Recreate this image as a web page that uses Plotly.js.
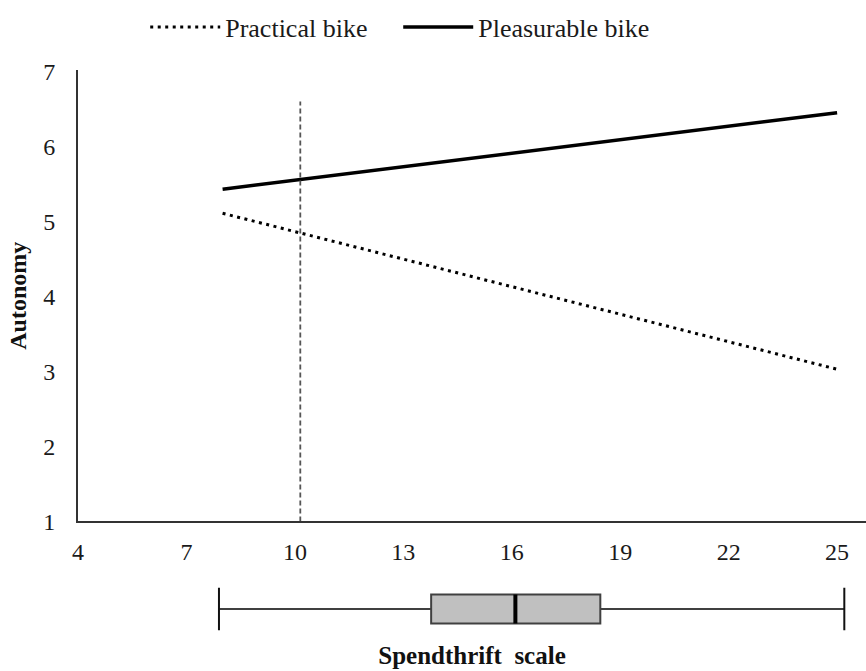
<!DOCTYPE html>
<html>
<head>
<meta charset="utf-8">
<script src="https://cdn.plot.ly/plotly-3.0.1.min.js"></script>
<style>
html,body{margin:0;padding:0;background:#fff;}
#chart{width:866px;height:671px;}
</style>
</head>
<body>
<div id="chart"></div>
<script>
// Spendthrift scale endpoints of the simple slopes
const spendX = [8, 25];
const practicalY = [5.11, 3.03];
const pleasurableY = [5.43, 6.45];
// Cut-off (vertical dashed) line
const cutoffX = [10.15, 10.15];
const cutoffY = [1, 6.6];
// Distribution of the spendthrift scale (box plot)
const boxMin = 7.9;
const boxQ1 = 13.77;
const boxMedian = 16.1;
const boxQ3 = 18.45;
const boxMax = 25.2;
const xTicks = [4, 7, 10, 13, 16, 19, 22, 25];
const yTicks = [1, 2, 3, 4, 5, 6, 7];
const seriesNames = ["Practical bike", "Pleasurable bike"];

const FONT = "Liberation Serif, Times New Roman, serif";
const boxHalf = 0.68;
const capHalf = 1.0;

const traces = [
  {x: spendX, y: practicalY, name: seriesNames[0], type: 'scatter', mode: 'lines',
   line: {color: '#000', width: 3, dash: '3px,4.5px'}, hoverinfo: 'skip'},
  {x: spendX, y: pleasurableY, name: seriesNames[1], type: 'scatter', mode: 'lines',
   line: {color: '#000', width: 3.5}, hoverinfo: 'skip'},
  {x: cutoffX, y: cutoffY, type: 'scatter', mode: 'lines', showlegend: false,
   line: {color: '#555', width: 1.8, dash: '5px,3px'}, hoverinfo: 'skip'},
  {type: 'box', orientation: 'h', y: [0], q1: [boxQ1], median: [boxMedian], q3: [boxQ3],
   lowerfence: [boxMin], upperfence: [boxMax], xaxis: 'x', yaxis: 'y2',
   width: 2 * boxHalf, whiskerwidth: 0, fillcolor: '#c0c0c0',
   line: {color: '#404040', width: 2}, boxpoints: false, showlegend: false, hoverinfo: 'skip'},
  {x: [boxMin, boxMin, null, boxMax, boxMax], y: [-capHalf, capHalf, null, -capHalf, capHalf],
   xaxis: 'x', yaxis: 'y2', type: 'scatter', mode: 'lines', showlegend: false,
   line: {color: '#111', width: 2}, hoverinfo: 'skip'},
  {x: [boxMedian, boxMedian], y: [-boxHalf, boxHalf], xaxis: 'x', yaxis: 'y2',
   type: 'scatter', mode: 'lines', showlegend: false,
   line: {color: '#000', width: 4}, hoverinfo: 'skip'}
];

const layout = {
  width: 866, height: 671,
  margin: {l: 78, r: 0, t: 70, b: 20},
  paper_bgcolor: '#fff', plot_bgcolor: 'rgba(0,0,0,0)',
  font: {family: FONT, size: 24, color: '#1a1a1a'},
  showlegend: true,
  legend: {orientation: 'h', x: 0.0853, xanchor: 'left', y: 1.074, yanchor: 'middle',
           font: {family: FONT, size: 26, color: '#1a1a1a'}, itemwidth: 70,
           entrywidth: 168, entrywidthmode: 'pixels', traceorder: 'normal'},
  xaxis: {range: [4, 25.8], anchor: 'y', tickvals: xTicks, ticktext: xTicks.map(String),
          showgrid: false, zeroline: false, showline: true, linecolor: '#333', linewidth: 2,
          ticks: '', ticklabelstandoff: 8, tickfont: {family: FONT, size: 24, color: '#1a1a1a'},
          title: {text: 'Spendthrift  scale', standoff: 82,
                  font: {family: FONT, size: 25, color: '#111', weight: 'bold'}}},
  yaxis: {domain: [0.2229, 1], range: [1, 7.02], tickvals: yTicks, ticktext: yTicks.map(String),
          showgrid: false, zeroline: false, showline: true, linecolor: '#333', linewidth: 2,
          ticks: '', ticklabelstandoff: 16, tickfont: {family: FONT, size: 24, color: '#1a1a1a'},
          title: {text: 'Autonomy', standoff: 10,
                  font: {family: FONT, size: 24, color: '#111', weight: 'bold'}}},
  yaxis2: {domain: [0.0353, 0.1093], range: [-1, 1], visible: false, fixedrange: true}
};

Plotly.newPlot('chart', traces, layout, {staticPlot: true, displayModeBar: false});
</script>
</body>
</html>
